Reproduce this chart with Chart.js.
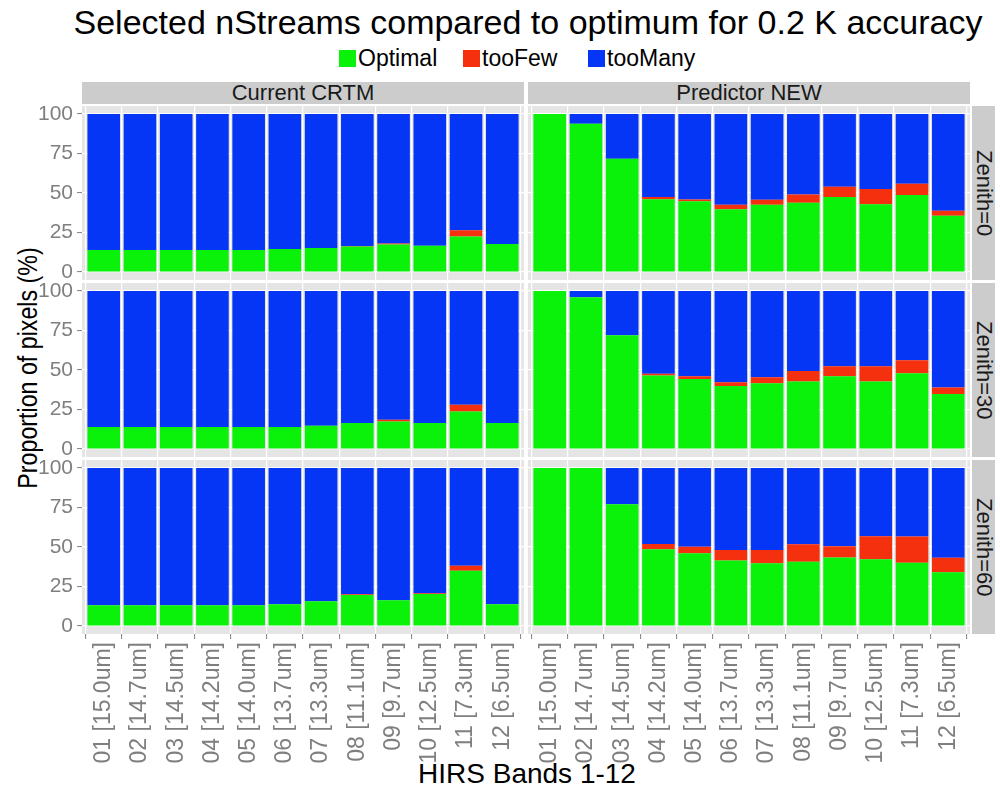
<!DOCTYPE html>
<html>
<head>
<meta charset="utf-8">
<script src="https://cdn.jsdelivr.net/npm/chart.js@4.4.1/dist/chart.umd.min.js"></script>
<style>
  html, body { margin: 0; padding: 0; background: #fff; }
  body { width: 1000px; height: 793px; position: relative; overflow: hidden;
         font-family: "Liberation Sans", Arial, Helvetica, sans-serif; }
  .abs { position: absolute; }
  canvas { position: absolute; }
  #title { left: 528px; top: 5px; transform: translateX(-50%); font-size: 34px; line-height: 1; white-space: nowrap; color: #000; }
  .key { width: 17px; height: 17px; top: 50px; }
  .ktext { top: 47px; font-size: 23px; line-height: 1; color: #000; white-space: nowrap; }
  .strip { background: #cccccc; color: #1a1a1a; font-size: 22px; display: flex; align-items: center; justify-content: center; white-space: nowrap; }
  .vstrip { writing-mode: vertical-rl; }
  #ytitle { left: 28px; top: 368px; transform: translate(-50%, -50%) rotate(-90deg) scaleX(0.86); font-size: 27px; line-height: 1; white-space: nowrap; color: #000; }
  #xtitle { left: 527px; top: 760px; transform: translateX(-50%); font-size: 28px; line-height: 1; white-space: nowrap; color: #000; }
</style>
</head>
<body>
<div id="title" class="abs">Selected nStreams compared to optimum for 0.2 K accuracy</div>
<div id="legend"></div>
<div id="ytitle" class="abs">Proportion of pixels (%)</div>
<div id="xtitle" class="abs">HIRS Bands 1-12</div>

<script>
// HIRS band labels (x axis categories)
const bands = ['01 [15.0um]', '02 [14.7um]', '03 [14.5um]', '04 [14.2um]', '05 [14.0um]', '06 [13.7um]',
               '07 [13.3um]', '08 [11.1um]', '09 [9.7um]', '10 [12.5um]', '11 [7.3um]', '12 [6.5um]'];
const methods = ['Current CRTM', 'Predictor NEW'];
const zeniths = ['Zenith=0', 'Zenith=30', 'Zenith=60'];
const categories = ['Optimal', 'tooFew', 'tooMany'];
const yTicks = [0, 25, 50, 75, 100];

// Proportion of pixels (%) per band, one set of arrays per facet
const crtm0Optimal = [14.0, 14.0, 14.0, 14.0, 14.0, 14.6, 15.3, 16.1, 17.4, 16.6, 22.5, 17.8];
const crtm0TooFew  = [0, 0, 0, 0, 0, 0, 0, 0.4, 0.7, 0, 4.0, 0];
const crtm0TooMany = [86.0, 86.0, 86.0, 86.0, 86.0, 85.4, 84.7, 83.5, 81.9, 83.4, 73.5, 82.2];

const new0Optimal = [100, 93.7, 71.6, 46.1, 44.8, 39.8, 42.5, 43.8, 47.4, 42.9, 48.8, 35.6];
const new0TooFew  = [0, 0, 0, 1.3, 1.1, 2.7, 3.2, 5.3, 6.5, 9.7, 7.0, 3.1];
const new0TooMany = [0, 6.3, 28.4, 52.6, 54.1, 57.5, 54.3, 50.9, 46.1, 47.4, 44.2, 61.3];

const crtm30Optimal = [13.9, 13.9, 13.9, 13.9, 13.9, 13.9, 14.8, 16.5, 17.5, 16.5, 23.8, 16.5];
const crtm30TooFew  = [0, 0, 0, 0, 0, 0, 0, 0, 1.1, 0, 4.3, 0];
const crtm30TooMany = [86.1, 86.1, 86.1, 86.1, 86.1, 86.1, 85.2, 83.5, 81.4, 83.5, 71.9, 83.5];

const new30Optimal = [100, 96.0, 71.9, 46.6, 44.3, 39.9, 41.6, 42.8, 46.0, 42.8, 47.9, 34.8];
const new30TooFew  = [0, 0, 0, 1.1, 1.7, 2.3, 3.8, 6.6, 6.3, 9.5, 8.2, 4.2];
const new30TooMany = [0, 4.0, 28.1, 52.3, 54.0, 57.8, 54.6, 50.6, 47.7, 47.7, 43.9, 61.0];

const crtm60Optimal = [13.1, 13.1, 13.1, 13.1, 13.1, 13.8, 15.7, 19.7, 16.3, 20.3, 35.0, 13.8];
const crtm60TooFew  = [0, 0, 0, 0, 0, 0, 0, 0.4, 0, 0.5, 3.1, 0];
const crtm60TooMany = [86.9, 86.9, 86.9, 86.9, 86.9, 86.2, 84.3, 79.9, 83.7, 79.2, 61.9, 86.2];

const new60Optimal = [100, 100, 77.1, 48.5, 46.0, 41.5, 39.8, 40.7, 43.4, 42.2, 40.0, 34.1];
const new60TooFew  = [0, 0, 0, 3.4, 4.2, 6.6, 8.3, 11.0, 7.0, 14.6, 16.6, 9.1];
const new60TooMany = [0, 0, 22.9, 48.1, 49.8, 51.9, 51.9, 48.3, 49.6, 43.2, 43.4, 56.8];

// facet grid: rows = zenith, columns = method
const facets = [
  [[crtm0Optimal, crtm0TooFew, crtm0TooMany],   [new0Optimal, new0TooFew, new0TooMany]],
  [[crtm30Optimal, crtm30TooFew, crtm30TooMany], [new30Optimal, new30TooFew, new30TooMany]],
  [[crtm60Optimal, crtm60TooFew, crtm60TooMany], [new60Optimal, new60TooFew, new60TooMany]]
];

const fillColors = ['#0af20a', '#f5300f', '#0535f5'];
const PANEL_BG = '#e5e5e5';
const TICK_GREY = '#7f7f7f';
const FONT = '"Liberation Sans", Arial, sans-serif';

// grid geometry (pixels)
const colLeft = [82, 528];
const panelW = 442;
const rowTop = [106, 283, 460];
const panelH = 174;
const yAxisW = 82;     // room for y tick labels on the left column
const xAxisH = 159;    // room for rotated band labels under the bottom row
const margin = 14;     // spare canvas room above/below so edge tick labels are not clipped
const stripH = 22;
const stripTop = 82;
const rStripLeft = 972, rStripW = 23;

// legend
const legendPos = [[339, 358], [463, 482], [588, 607]];
const legendEl = document.getElementById('legend');
categories.forEach((c, i) => {
  const k = document.createElement('div');
  k.className = 'abs key';
  k.style.left = legendPos[i][0] + 'px';
  k.style.background = fillColors[i];
  legendEl.appendChild(k);
  const t = document.createElement('div');
  t.className = 'abs ktext';
  t.style.left = legendPos[i][1] + 'px';
  t.textContent = c;
  legendEl.appendChild(t);
});

// facet strips
methods.forEach((m, c) => {
  const s = document.createElement('div');
  s.className = 'abs strip';
  s.style.left = colLeft[c] + 'px';
  s.style.top = stripTop + 'px';
  s.style.width = panelW + 'px';
  s.style.height = stripH + 'px';
  s.textContent = m;
  document.body.appendChild(s);
});
zeniths.forEach((z, r) => {
  const s = document.createElement('div');
  s.className = 'abs strip vstrip';
  s.style.left = rStripLeft + 'px';
  s.style.top = rowTop[r] + 'px';
  s.style.width = rStripW + 'px';
  s.style.height = panelH + 'px';
  s.textContent = z;
  document.body.appendChild(s);
});

// grey panel background behind the grid
const panelBg = {
  id: 'panelBg',
  beforeDraw(chart) {
    const { ctx, chartArea: a } = chart;
    ctx.save();
    ctx.fillStyle = PANEL_BG;
    ctx.fillRect(a.left, a.top, a.right - a.left, a.bottom - a.top);
    ctx.restore();
  }
};

function zeroPad(s) {
  s.paddingLeft = 0; s.paddingRight = 0; s.paddingTop = 0; s.paddingBottom = 0;
}

function makePanel(r, c) {
  const showY = c === 0;
  const showX = r === 2;
  const cv = document.createElement('canvas');
  const w = panelW + (showY ? yAxisW : 0);
  const h = margin + panelH + (showX ? xAxisH : margin);
  cv.width = w; cv.height = h;
  cv.style.width = w + 'px'; cv.style.height = h + 'px';
  cv.style.left = (colLeft[c] - (showY ? yAxisW : 0)) + 'px';
  cv.style.top = (rowTop[r] - margin) + 'px';
  document.body.appendChild(cv);

  const series = facets[r][c];
  const datasets = categories.map((name, k) => ({
    label: name,
    data: series[k].map((v, i) => ({ x: i + 1, y: v })),
    backgroundColor: fillColors[k],
    borderWidth: 0,
    categoryPercentage: 1,
    barPercentage: 0.9
  }));

  new Chart(cv, {
    type: 'bar',
    data: { datasets },
    plugins: [panelBg],
    options: {
      responsive: false,
      animation: false,
      devicePixelRatio: 1,
      layout: { padding: { top: margin, bottom: showX ? 0 : margin, left: 0, right: 0 } },
      plugins: { legend: { display: false }, tooltip: { enabled: false } },
      scales: {
        x: {
          type: 'linear',
          stacked: true,
          min: 0.4, max: 12.6,
          offset: false,
          afterBuildTicks: s => { s.ticks = bands.map((_, i) => ({ value: i + 1 })); },
          afterFit: s => { s.height = showX ? xAxisH : 0; zeroPad(s); },
          border: { display: false },
          grid: { color: '#ffffff', lineWidth: 1.2, drawTicks: showX, tickLength: 5, tickColor: TICK_GREY, tickWidth: 1 },
          ticks: {
            display: showX,
            autoSkip: false,
            maxRotation: 90, minRotation: 90,
            padding: 3,
            color: TICK_GREY,
            font: { family: FONT, size: 23 },
            callback: v => bands[v - 1]
          }
        },
        y: {
          stacked: true,
          min: -5, max: 105,
          afterBuildTicks: s => { s.ticks = yTicks.map(v => ({ value: v })); },
          afterFit: s => { s.width = showY ? yAxisW : 0; zeroPad(s); },
          border: { display: false },
          grid: { color: '#ffffff', lineWidth: 1.2, drawTicks: showY, tickLength: 5, tickColor: TICK_GREY, tickWidth: 1 },
          ticks: {
            display: showY,
            padding: 4,
            color: TICK_GREY,
            font: { family: FONT, size: 21 }
          }
        }
      }
    }
  });
}

for (let r = 0; r < 3; r++) for (let c = 0; c < 2; c++) makePanel(r, c);
</script>
</body>
</html>
